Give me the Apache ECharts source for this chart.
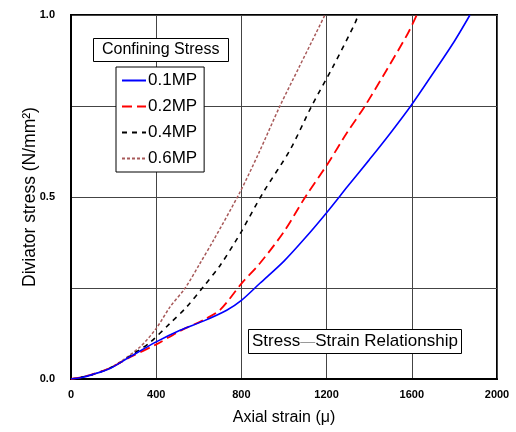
<!DOCTYPE html>
<html>
<head>
<meta charset="utf-8">
<script src="https://cdn.jsdelivr.net/npm/echarts@6/dist/echarts.min.js"></script>
<style>
  html, body { margin: 0; padding: 0; background: #fff; }
  #chart { width: 516px; height: 432px; }
</style>
</head>
<body>
<div id="chart"></div>
<script>
// values: [axial strain (μ), deviator stress (N/mm²)]
const seriesNames = ['0.1MP', '0.2MP', '0.4MP', '0.6MP'];

const mp01 = [
    [0, 0], [50, 0.004], [100, 0.012], [183, 0.029], [277, 0.061], [400, 0.102],
    [512, 0.134], [621, 0.159], [731, 0.189], [800, 0.216], [887, 0.263],
    [1000, 0.324], [1100, 0.388], [1200, 0.457], [1300, 0.53], [1400, 0.602],
    [1500, 0.676], [1595, 0.75], [1700, 0.84], [1800, 0.928], [1873, 1.0]
];
const mp02 = [
    [0, 0], [50, 0.005], [100, 0.013], [183, 0.03], [277, 0.06], [400, 0.095],
    [512, 0.132], [621, 0.162], [700, 0.19], [800, 0.262], [887, 0.318],
    [1000, 0.405], [1100, 0.5], [1207, 0.593], [1294, 0.675], [1380, 0.75],
    [1482, 0.849], [1582, 0.95], [1623, 1.0]
];
const mp04 = [
    [0, 0], [100, 0.012], [200, 0.035], [300, 0.072], [370, 0.1], [465, 0.153],
    [543, 0.198], [621, 0.253], [700, 0.312], [770, 0.376], [800, 0.405],
    [903, 0.513], [1028, 0.629], [1130, 0.75], [1230, 0.858], [1333, 0.977],
    [1348, 1.0]
];
const mp06 = [
    [0, 0], [100, 0.012], [200, 0.036], [324, 0.088], [400, 0.139], [465, 0.198],
    [535, 0.249], [606, 0.318], [668, 0.38], [793, 0.513], [881, 0.62],
    [981, 0.75], [1072, 0.858], [1150, 0.95], [1192, 1.0]
];

const xTicks = [0, 400, 800, 1200, 1600, 2000];
const yLabelled = [0, 0.5, 1.0];

const chart = echarts.init(document.getElementById('chart'));
const font = '"Liberation Sans", Arial, sans-serif';

const option = {
    animation: false,
    backgroundColor: '#fff',
    textStyle: { fontFamily: font },
    title: [
        {
            text: 'Confining Stress',
            left: 93,
            top: 38,
            padding: [4, 9],
            borderColor: '#000',
            borderWidth: 1,
            backgroundColor: '#fff',
            textStyle: { fontFamily: font, fontSize: 16, fontWeight: 'normal', color: '#000' }
        },
        {
            text: 'Stress{d|—}Strain Relationship',
            left: 248,
            top: 329,
            padding: [4, 4],
            borderColor: '#000',
            borderWidth: 1,
            backgroundColor: '#fff',
            textStyle: {
                fontFamily: font, fontSize: 17, fontWeight: 'normal', color: '#000',
                rich: { d: { fontFamily: font, fontSize: 15, color: '#999' } }
            }
        }
    ],
    legend: {
        orient: 'vertical',
        left: 116,
        top: 67,
        padding: [5, 7, 5, 5],
        itemWidth: 24,
        itemHeight: 17,
        itemGap: 9,
        borderColor: '#000',
        borderWidth: 1,
        backgroundColor: '#fff',
        itemStyle: { opacity: 0 },
        data: seriesNames,
        textStyle: { fontFamily: font, fontSize: 17, color: '#000', padding: [0, 0, 0, -3] }
    },
    grid: {
        left: 71,
        right: 19,
        top: 15,
        bottom: 53,
        show: true,
        borderColor: '#000',
        borderWidth: 2
    },
    xAxis: {
        type: 'value',
        min: xTicks[0],
        max: xTicks[xTicks.length - 1],
        interval: 400,
        name: 'Axial strain (μ)',
        nameLocation: 'middle',
        nameGap: 31,
        nameTextStyle: { fontFamily: font, fontSize: 16, color: '#000' },
        axisLine: { show: true, lineStyle: { color: '#000', width: 2 } },
        axisTick: { show: false },
        axisLabel: {
            fontFamily: font, fontSize: 11, fontWeight: 'bold', color: '#000', margin: 10,
            formatter: v => String(v)
        },
        splitLine: { show: true, lineStyle: { color: '#444', width: 1 } }
    },
    yAxis: {
        type: 'value',
        min: 0,
        max: 1,
        interval: 0.25,
        name: 'Diviator stress (N/mm²)',
        nameLocation: 'middle',
        nameGap: 32,
        nameMoveOverlap: false,
        nameTextStyle: { fontFamily: font, fontSize: 17.5, color: '#000' },
        axisLine: { show: true, lineStyle: { color: '#000', width: 2 } },
        axisTick: { show: false },
        axisLabel: {
            fontFamily: font, fontSize: 11, fontWeight: 'bold', color: '#000', margin: 16,
            formatter: v => yLabelled.some(t => Math.abs(t - v) < 1e-6) ? v.toFixed(1) : ''
        },
        splitLine: { show: true, lineStyle: { color: '#444', width: 1 } }
    },
    series: [
        {
            name: seriesNames[0], type: 'line', data: mp01, symbol: 'none', smooth: 0.3,
            lineStyle: { color: '#0000ff', width: 1.6, type: 'solid' },
            itemStyle: { color: '#0000ff' }, z: 4
        },
        {
            name: seriesNames[1], type: 'line', data: mp02, symbol: 'none', smooth: 0.3,
            lineStyle: { color: '#ff0000', width: 1.8, type: [10, 5] },
            itemStyle: { color: '#ff0000' }, z: 3
        },
        {
            name: seriesNames[2], type: 'line', data: mp04, symbol: 'none', smooth: 0.3,
            lineStyle: { color: '#000000', width: 1.6, type: [5, 5] },
            itemStyle: { color: '#000000' }, z: 2
        },
        {
            name: seriesNames[3], type: 'line', data: mp06, symbol: 'none', smooth: 0.3,
            lineStyle: { color: '#a85a5a', width: 1.5, type: [3, 2] },
            itemStyle: { color: '#a85a5a' }, z: 1
        }
    ]
};

chart.setOption(option);
</script>
</body>
</html>
